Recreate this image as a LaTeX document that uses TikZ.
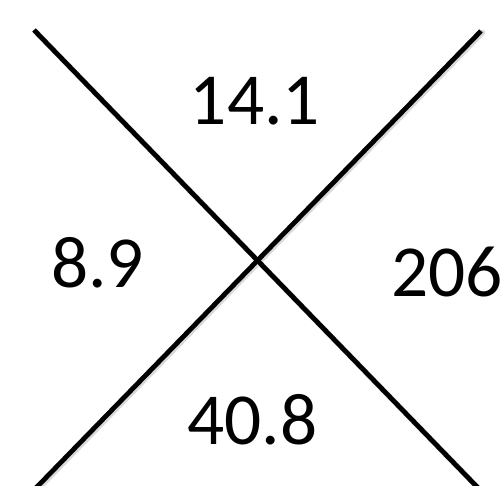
\documentclass[tikz,border=0pt]{standalone}
\usepackage{fontspec}
\setmainfont{Carlito}
\begin{document}
\begin{tikzpicture}[x=0.75pt,y=-0.75pt,
  cross/.style={line width=3.6pt,black},
  shadowline/.style={line width=4.2pt,black!15},
  num/.style={inner sep=0pt,anchor=base,font=\fontsize{55}{60}\selectfont}]
\useasboundingbox[fill=white] (0,0) rectangle (504,486);
\coordinate (tl) at (34,30);
\coordinate (br) at (482,492);
\coordinate (tr) at (481,31);
\coordinate (bl) at (32,492);
\begin{scope}
\clip (0,0) rectangle (504,486);
\draw[shadowline,line cap=round] ([shift={(1.5,1.5)}]tl) -- ([shift={(1.5,1.5)}]br);
\draw[shadowline,line cap=round] ([shift={(1.5,1.5)}]tr) -- ([shift={(1.5,1.5)}]bl);
\draw[cross] (tl) -- (br);
\draw[cross] (tr) -- (bl);
\end{scope}
\node[num] (top) at (255,124) {14.1};
\node[num] (left) at (97.5,287) {8.9};
\node[num] (right) at (447,296) {206};
\node[num] (bottom) at (252.5,444) {40.8};
\end{tikzpicture}
\end{document}
